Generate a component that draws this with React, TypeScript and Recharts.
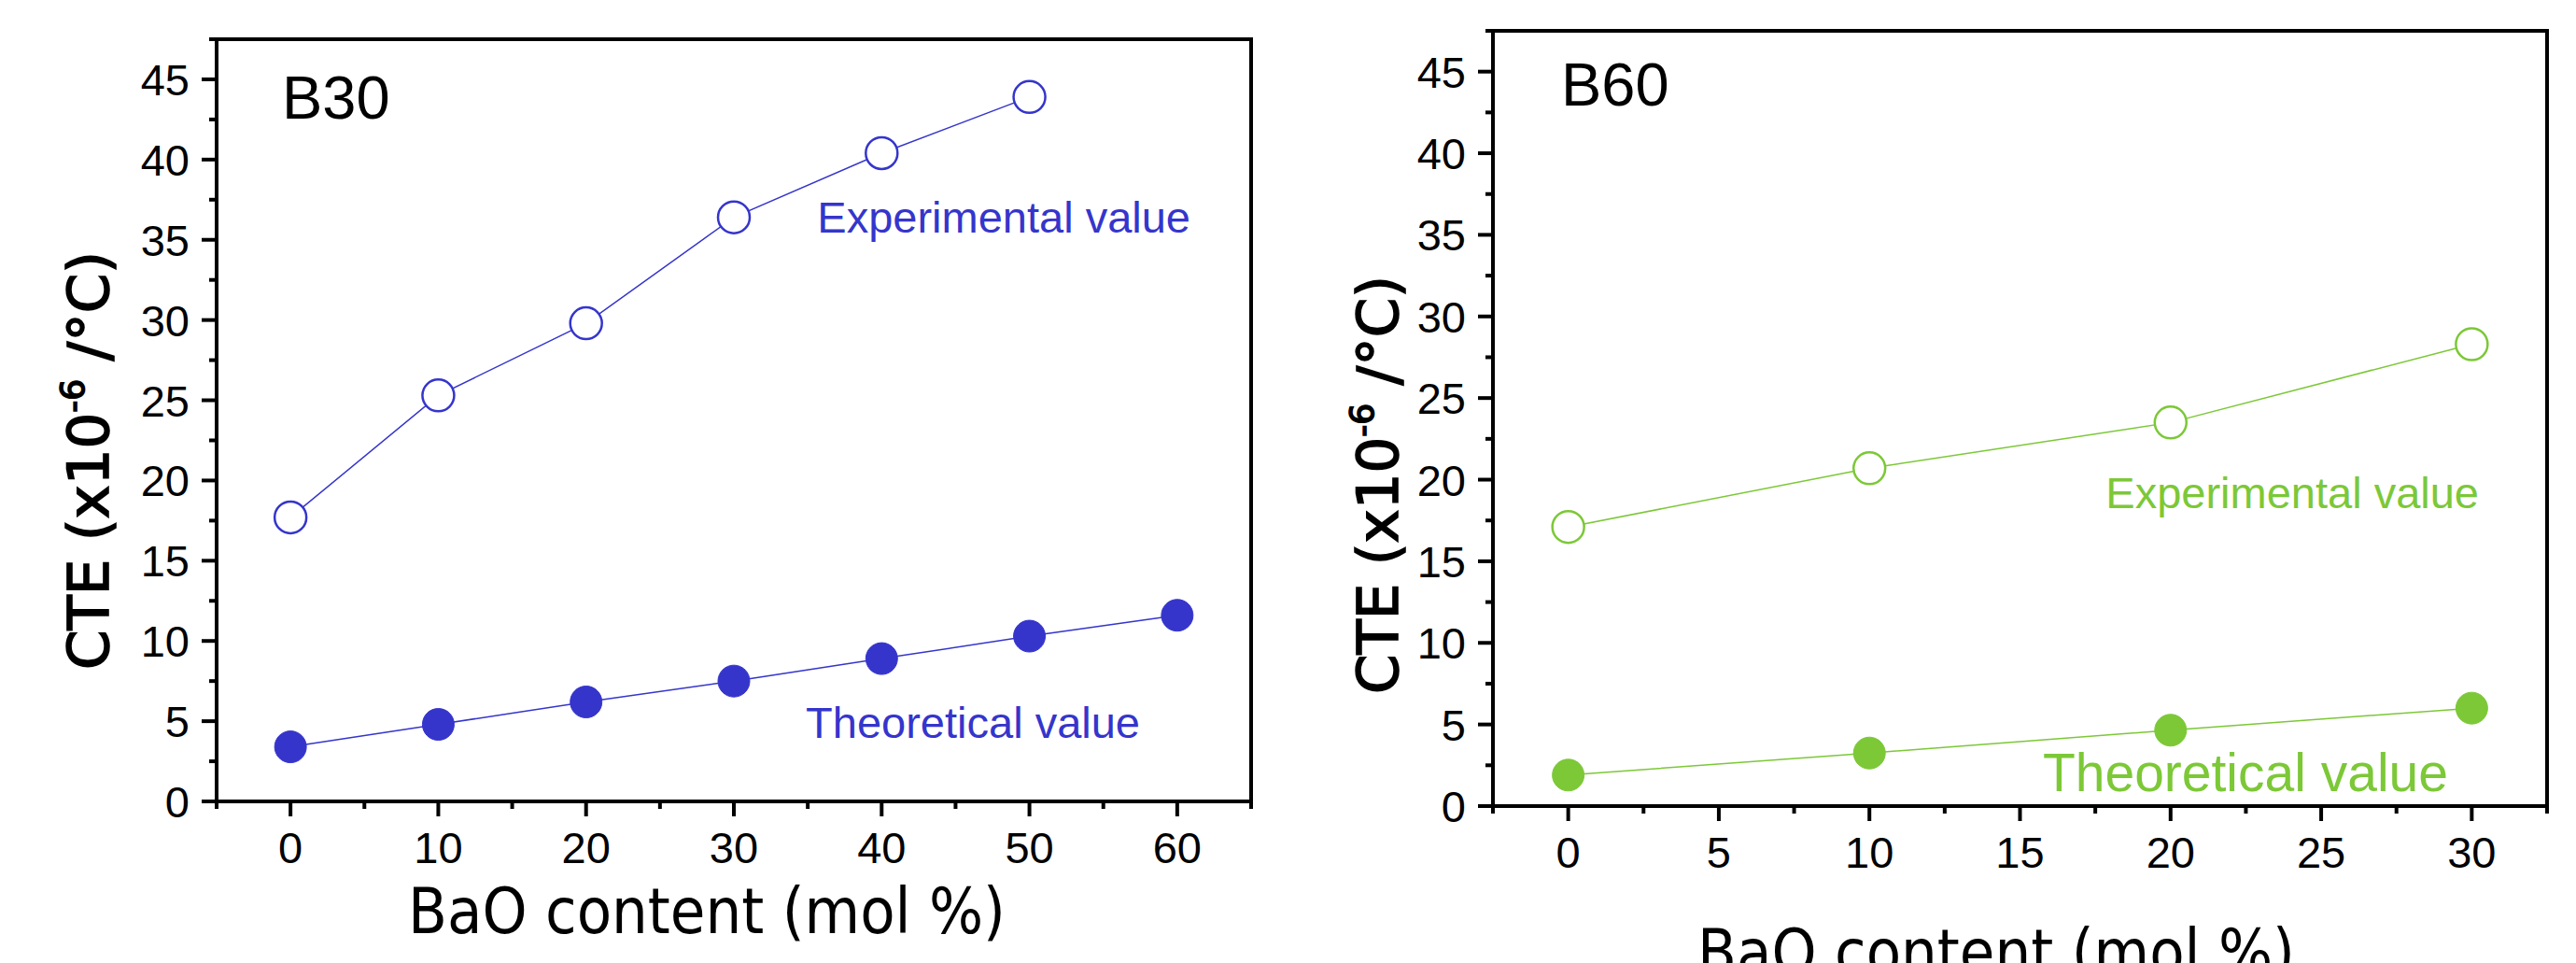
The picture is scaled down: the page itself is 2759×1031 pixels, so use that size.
import { LineChart, Line, XAxis, YAxis, ReferenceArea } from "recharts";

// B30 panel
const b30ExpBaO = [0, 10, 20, 30, 40, 50];
const b30ExpCte = [17.7, 25.3, 29.8, 36.4, 40.4, 43.9];
const b30TheoBaO = [0, 10, 20, 30, 40, 50, 60];
const b30TheoCte = [3.4, 4.8, 6.2, 7.5, 8.9, 10.3, 11.6];

// B60 panel
const b60BaO = [0, 10, 20, 30];
const b60ExpCte = [17.1, 20.7, 23.5, 28.3];
const b60TheoCte = [1.9, 3.25, 4.65, 6.0];

// ticks
const cteTicks = [0, 2.5, 5, 7.5, 10, 12.5, 15, 17.5, 20, 22.5, 25, 27.5, 30, 32.5, 35, 37.5, 40, 42.5, 45, 47.5];
const cteLabels = [0, 5, 10, 15, 20, 25, 30, 35, 40, 45];
const b30Ticks = [-5, 0, 5, 10, 15, 20, 25, 30, 35, 40, 45, 50, 55, 60, 65];
const b30Labels = [0, 10, 20, 30, 40, 50, 60];
const b60Ticks = [-2.5, 0, 2.5, 5, 7.5, 10, 12.5, 15, 17.5, 20, 22.5, 25, 27.5, 30, 32.5];
const b60Labels = [0, 5, 10, 15, 20, 25, 30];

const BLUE = "#3535CC";
const GREEN = "#7CC837";
const tickFont = "'Liberation Sans', Arial, sans-serif";
const labelFont = "'DejaVu Sans Condensed', 'DejaVu Sans', sans-serif";
const yLabelFont = "'DejaVu Sans', sans-serif";

const toPoints = (xs: number[], ys: number[]) => xs.map((x, i) => ({ x, y: ys[i] }));

function xTick(labels: number[]) {
  return (props: any) => {
    const { x, y, payload } = props;
    const major = labels.includes(payload.value);
    return (
      <g>
        <line x1={x} y1={y} x2={x} y2={y + (major ? 16 : 8)} stroke="#000" strokeWidth={4} />
        {major && (
          <text x={x} y={y + 66} textAnchor="middle" fontSize={47} fontFamily={tickFont} fill="#000">
            {payload.value}
          </text>
        )}
      </g>
    );
  };
}

function yTick(props: any) {
  const { x, y, payload } = props;
  const major = cteLabels.includes(payload.value);
  return (
    <g>
      <line x1={x - (major ? 16 : 8)} y1={y} x2={x} y2={y} stroke="#000" strokeWidth={4} />
      {major && (
        <text x={x - 29} y={y + 17} textAnchor="end" fontSize={47} fontFamily={tickFont} fill="#000">
          {payload.value}
        </text>
      )}
    </g>
  );
}

function Panel({
  width,
  margin,
  xHeight,
  yWidth,
  xDomain,
  xTicks,
  xLabels,
  color,
  exp,
  theo,
}: {
  width: number;
  margin: { top: number; right: number; bottom: number; left: number };
  xHeight: number;
  yWidth: number;
  xDomain: [number, number];
  xTicks: number[];
  xLabels: number[];
  color: string;
  exp: { x: number; y: number }[];
  theo: { x: number; y: number }[];
}) {
  return (
    <LineChart width={width} height={1031} margin={margin}>
      <XAxis
        type="number"
        dataKey="x"
        domain={xDomain}
        ticks={xTicks}
        interval={0}
        height={xHeight}
        tickSize={0}
        tickMargin={0}
        axisLine={false}
        tickLine={false}
        tick={xTick(xLabels)}
      />
      <YAxis
        type="number"
        dataKey="y"
        domain={[0, 47.5]}
        ticks={cteTicks}
        interval={0}
        width={yWidth}
        tickSize={0}
        tickMargin={0}
        axisLine={false}
        tickLine={false}
        tick={yTick}
      />
      <ReferenceArea
        x1={xDomain[0]}
        x2={xDomain[1]}
        y1={0}
        y2={47.5}
        fill="none"
        fillOpacity={0}
        stroke="#000"
        strokeWidth={4}
      />
      <Line
        data={exp}
        dataKey="y"
        stroke={color}
        strokeWidth={1.5}
        dot={{ r: 17, fill: "#fff", stroke: color, strokeWidth: 2.5 }}
        isAnimationActive={false}
      />
      <Line
        data={theo}
        dataKey="y"
        stroke={color}
        strokeWidth={1.5}
        dot={{ r: 17, fill: color, stroke: color, strokeWidth: 1 }}
        isAnimationActive={false}
      />
    </LineChart>
  );
}

function CteLabel({ x, y }: { x: number; y: number }) {
  return (
    <text
      x={x}
      y={y}
      transform={`rotate(-90 ${x} ${y})`}
      textAnchor="middle"
      fontSize={61}
      fontFamily={yLabelFont}
      fill="#000"
      stroke="#000"
      strokeWidth={1.6}
    >
      CTE (x10<tspan dy={-26} fontSize={36}>-6</tspan>
      <tspan dy={26}> /°C)</tspan>
    </text>
  );
}

export default function App() {
  return (
    <div style={{ position: "absolute", left: 0, top: 0, width: 2759, height: 1031, background: "#fff", overflow: "hidden" }}>
      <div style={{ position: "absolute", left: 0, top: 0 }}>
        <Panel
          width={1380}
          margin={{ top: 42, right: 40, bottom: 0, left: 0 }}
          xHeight={173}
          yWidth={232}
          xDomain={[-5, 65]}
          xTicks={b30Ticks}
          xLabels={b30Labels}
          color={BLUE}
          exp={toPoints(b30ExpBaO, b30ExpCte)}
          theo={toPoints(b30TheoBaO, b30TheoCte)}
        />
      </div>
      <div style={{ position: "absolute", left: 1380, top: 0 }}>
        <Panel
          width={1379}
          margin={{ top: 33, right: 31, bottom: 0, left: 0 }}
          xHeight={168}
          yWidth={219}
          xDomain={[-2.5, 32.5]}
          xTicks={b60Ticks}
          xLabels={b60Labels}
          color={GREEN}
          exp={toPoints(b60BaO, b60ExpCte)}
          theo={toPoints(b60BaO, b60TheoCte)}
        />
      </div>
      <svg width={2759} height={1031} style={{ position: "absolute", left: 0, top: 0, pointerEvents: "none" }}>
        <text x={302} y={127} fontSize={65} fontFamily={tickFont}>B30</text>
        <text x={1672} y={113} fontSize={65} fontFamily={tickFont}>B60</text>

        <text x={1275} y={249} textAnchor="end" fontSize={47} fontFamily={tickFont} fill={BLUE}>Experimental value</text>
        <text x={1221} y={790} textAnchor="end" fontSize={47} fontFamily={tickFont} fill={BLUE}>Theoretical value</text>
        <text x={2655} y={544} textAnchor="end" fontSize={47} fontFamily={tickFont} fill={GREEN}>Experimental value</text>
        <text x={2622} y={847} textAnchor="end" fontSize={57} fontFamily={tickFont} fill={GREEN}>Theoretical value</text>

        <text x={757} y={999} textAnchor="middle" fontSize={68} fontFamily={labelFont}>BaO content (mol %)</text>
        <text x={2138} y={1043} textAnchor="middle" fontSize={68} fontFamily={labelFont}>BaO content (mol %)</text>

        <CteLabel x={116} y={493} />
        <CteLabel x={1497} y={519} />
      </svg>
    </div>
  );
}
